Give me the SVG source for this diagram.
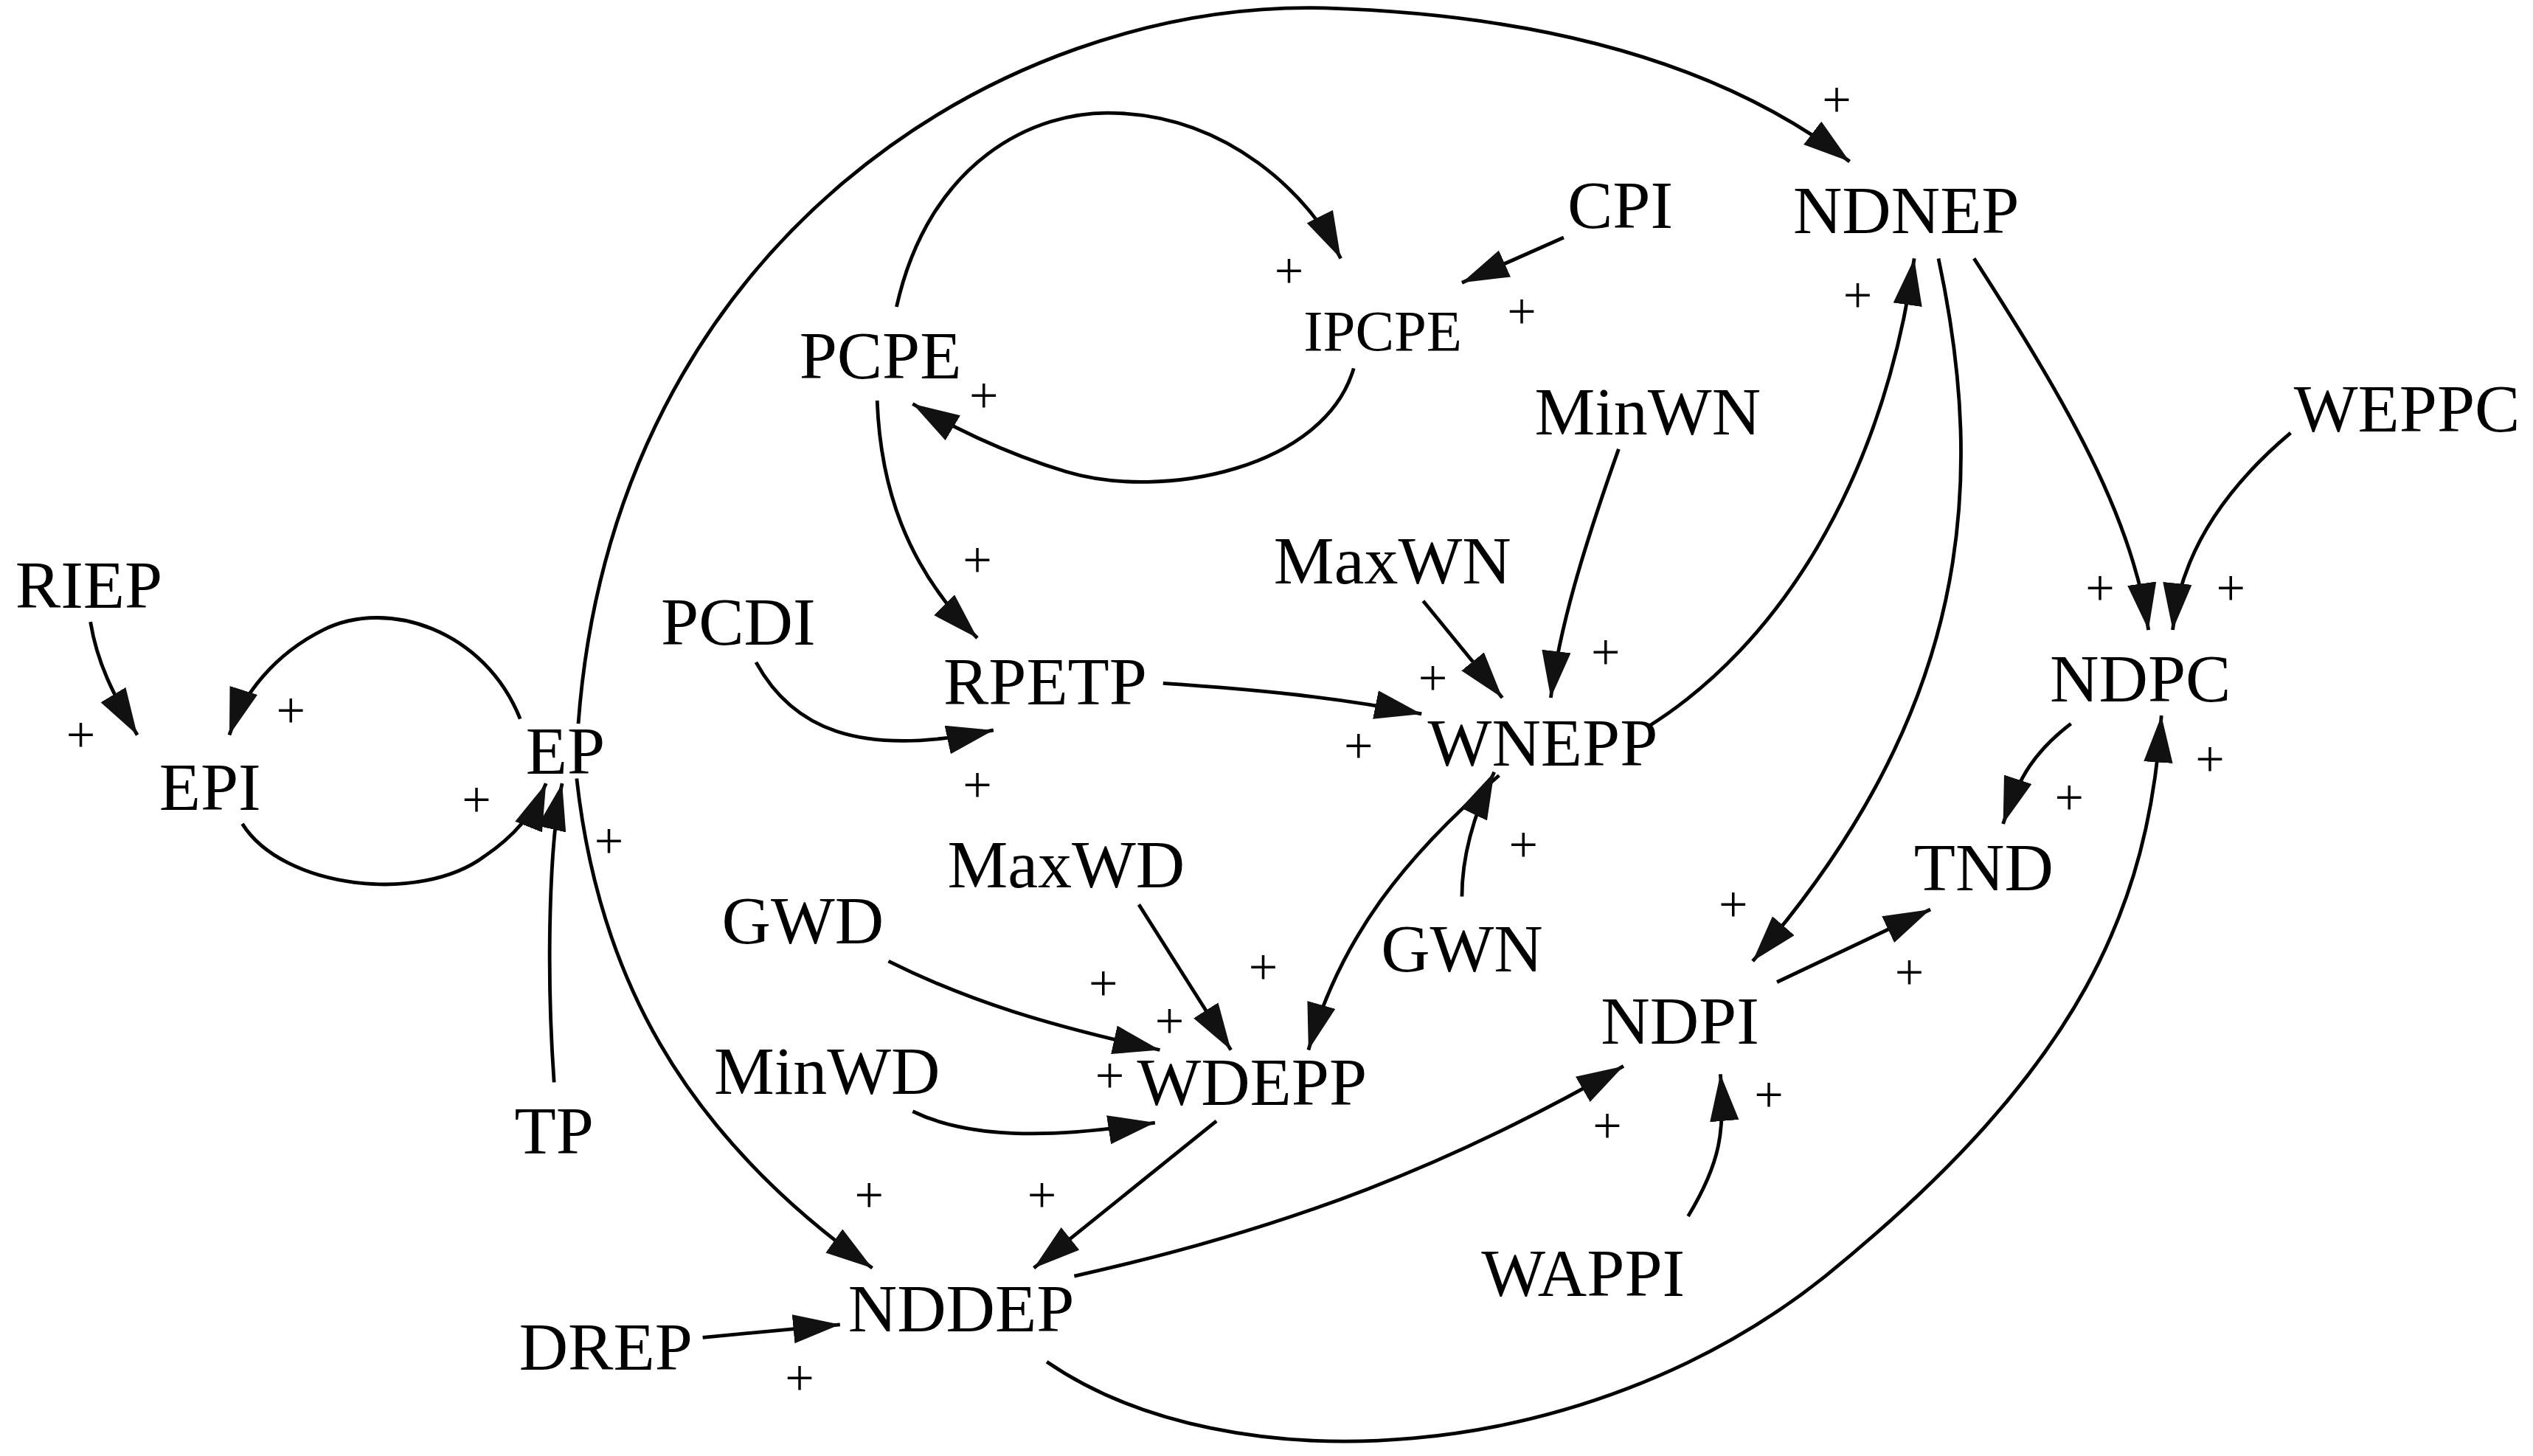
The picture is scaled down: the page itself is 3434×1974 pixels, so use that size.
<svg xmlns="http://www.w3.org/2000/svg" width="3434" height="1974" viewBox="0 0 3434 1974">
<style>
.n{font-family:"Liberation Serif",serif;font-size:42px;fill:#000;text-anchor:middle;dominant-baseline:central}
.p{font-family:"Liberation Serif",serif;font-size:32px;fill:#000;text-anchor:middle;dominant-baseline:central}
.c path{fill:none;stroke:#000;stroke-width:2.2;marker-end:url(#a)}
</style>
<defs>
<marker id="a" markerUnits="userSpaceOnUse" markerWidth="32" markerHeight="22" refX="29" refY="9" orient="auto" viewBox="0 0 32 22">
<path d="M0,0 L29,9 L0,18 Z" fill="#111"/>
</marker>
</defs>
<rect width="3434" height="1974" fill="#fff"/>
<g transform="scale(2.19)">
<g class="c" id="connectors">
<path d="M358,448 C380,150 620,0 820,5 C980,10 1080,50 1145,100"/>
<path d="M555,190 C575,100 640,68 690,70 C760,72 810,120 830,160"/>
<path d="M838,228 C820,290 720,310 660,292 C620,280 585,262 565,250"/>
<path d="M968,147 L905,175"/>
<path d="M543,248 C545,300 560,350 605,395"/>
<path d="M468,410 C490,450 530,470 615,452"/>
<path d="M720,423 C780,427 830,432 880,442"/>
<path d="M881,372 L930,432"/>
<path d="M1002,278 C980,340 965,390 960,432"/>
<path d="M1020,450 C1100,400 1165,300 1185,160"/>
<path d="M1200,160 C1230,300 1220,440 1085,595"/>
<path d="M1222,160 C1280,250 1320,320 1330,390"/>
<path d="M1418,268 C1380,300 1350,340 1345,390"/>
<path d="M1282,448 C1260,465 1250,480 1240,510"/>
<path d="M648,843 C760,920 980,910 1130,790 C1290,660 1330,560 1338,443"/>
<path d="M56,385 C60,410 70,430 85,455"/>
<path d="M322,445 C300,390 240,370 200,390 C170,405 150,430 142,455"/>
<path d="M150,510 C175,550 260,560 300,530 C315,520 330,505 338,485"/>
<path d="M343,670 C338,600 340,520 348,485"/>
<path d="M357,482 C370,600 420,700 540,785"/>
<path d="M550,595 C600,620 650,635 718,650"/>
<path d="M705,560 L762,650"/>
<path d="M565,688 C600,705 650,705 715,695"/>
<path d="M928,480 C870,530 830,580 810,650"/>
<path d="M905,555 C905,530 912,505 925,478"/>
<path d="M753,694 L640,785"/>
<path d="M665,790 C800,760 900,720 1005,660"/>
<path d="M1045,753 C1065,720 1068,700 1065,665"/>
<path d="M1100,608 L1195,563"/>
<path d="M435,828 L520,820"/>
</g>
<g id="NDNEP"><text class="n" x="1180" y="130">NDNEP</text></g>
<g id="CPI"><text class="n" x="1003" y="127">CPI</text></g>
<g id="IPCPE"><text class="n" x="856" y="205" style="font-size:36px">IPCPE</text></g>
<g id="PCPE"><text class="n" x="545" y="220">PCPE</text></g>
<g id="MinWN"><text class="n" x="1020" y="255">MinWN</text></g>
<g id="WEPPC"><text class="n" x="1490" y="253">WEPPC</text></g>
<g id="MaxWN"><text class="n" x="862" y="347">MaxWN</text></g>
<g id="NDPC"><text class="n" x="1325" y="420">NDPC</text></g>
<g id="RIEP"><text class="n" x="55" y="362">RIEP</text></g>
<g id="PCDI"><text class="n" x="457" y="385">PCDI</text></g>
<g id="RPETP"><text class="n" x="647" y="422">RPETP</text></g>
<g id="WNEPP"><text class="n" x="955" y="460">WNEPP</text></g>
<g id="EP"><text class="n" x="350" y="465">EP</text></g>
<g id="EPI"><text class="n" x="130" y="487">EPI</text></g>
<g id="TND"><text class="n" x="1228" y="537">TND</text></g>
<g id="MaxWD"><text class="n" x="660" y="535">MaxWD</text></g>
<g id="GWD"><text class="n" x="497" y="570">GWD</text></g>
<g id="GWN"><text class="n" x="905" y="587">GWN</text></g>
<g id="NDPI"><text class="n" x="1040" y="632">NDPI</text></g>
<g id="MinWD"><text class="n" x="512" y="663">MinWD</text></g>
<g id="WDEPP"><text class="n" x="775" y="670">WDEPP</text></g>
<g id="TP"><text class="n" x="343" y="700">TP</text></g>
<g id="WAPPI"><text class="n" x="980" y="788">WAPPI</text></g>
<g id="NDDEP"><text class="n" x="595" y="810">NDDEP</text></g>
<g id="DREP"><text class="n" x="375" y="834">DREP</text></g>
<g id="signs">
<text class="p" x="1137" y="62">+</text><text class="p" x="798" y="168">+</text>
<text class="p" x="942" y="193">+</text><text class="p" x="609" y="245">+</text>
<text class="p" x="1150" y="183">+</text><text class="p" x="605" y="347">+</text>
<text class="p" x="1300" y="364">+</text><text class="p" x="1381" y="364">+</text>
<text class="p" x="994" y="404">+</text><text class="p" x="887" y="420">+</text>
<text class="p" x="841" y="462">+</text><text class="p" x="180" y="440">+</text>
<text class="p" x="50" y="455">+</text><text class="p" x="295" y="495">+</text>
<text class="p" x="377" y="521">+</text><text class="p" x="605" y="486">+</text>
<text class="p" x="1368" y="470">+</text><text class="p" x="1281" y="494">+</text>
<text class="p" x="943" y="523">+</text><text class="p" x="683" y="609">+</text>
<text class="p" x="782" y="599">+</text><text class="p" x="724" y="632">+</text>
<text class="p" x="687" y="666">+</text><text class="p" x="1073" y="560">+</text>
<text class="p" x="1182" y="602">+</text><text class="p" x="1095" y="678">+</text>
<text class="p" x="995" y="697">+</text><text class="p" x="538" y="740">+</text>
<text class="p" x="645" y="740">+</text><text class="p" x="495" y="853">+</text>
</g>
</g>
</svg>
